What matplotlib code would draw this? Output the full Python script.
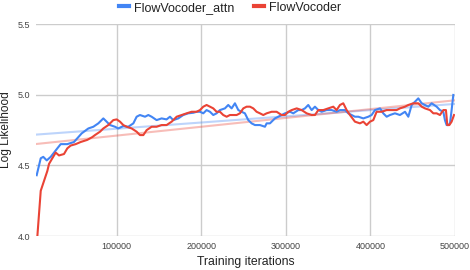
import numpy as np
import matplotlib
matplotlib.use('Agg')
import matplotlib.pyplot as plt

plt.rcParams['font.family'] = ['Liberation Sans', 'DejaVu Sans']

# FlowVocoder_attn (blue)
attn_iters = [5400, 10200, 13200, 17300, 22000, 25900, 29800, 33800, 41600, 49500,
              58600, 66500, 72400, 78300, 84200, 88100, 92100, 98000, 101900, 107800,
              113700, 119700, 123600, 127500, 133500, 137400, 141300, 147200, 153100, 159000,
              163000, 166900, 172800, 178700, 184600, 190600, 194500, 198500, 202400, 206300,
              210300, 214200, 218100, 222100, 228000, 231900, 235900, 239800, 243800, 247700,
              251600, 255600, 259500, 263500, 269400, 275300, 277300, 281200, 287100, 291100,
              295000, 299000, 304900, 308800, 314700, 318700, 322600, 326500, 330500, 334400,
              338400, 342300, 348200, 354100, 360000, 364000, 369900, 373800, 377800, 381700,
              385700, 391600, 397500, 401400, 405400, 411300, 415200, 419200, 423100, 429000,
              434900, 440900, 444800, 448800, 452700, 456600, 460600, 464500, 468500, 472400,
              478300, 482200, 486200, 488100, 490100, 492100, 494100, 496000, 498000]
attn_ll = [4.43, 4.55, 4.56, 4.535, 4.56, 4.59, 4.62, 4.65, 4.65, 4.665,
           4.726, 4.761, 4.773, 4.797, 4.832, 4.809, 4.785, 4.773, 4.761, 4.778,
           4.773, 4.797, 4.844, 4.856, 4.844, 4.856, 4.844, 4.820, 4.832, 4.825,
           4.844, 4.820, 4.832, 4.856, 4.868, 4.872, 4.879, 4.879, 4.868, 4.891,
           4.879, 4.856, 4.868, 4.891, 4.903, 4.927, 4.903, 4.939, 4.891, 4.879,
           4.868, 4.820, 4.797, 4.785, 4.785, 4.773, 4.797, 4.797, 4.832, 4.844,
           4.856, 4.868, 4.879, 4.868, 4.891, 4.891, 4.903, 4.927, 4.891, 4.915,
           4.891, 4.879, 4.891, 4.891, 4.879, 4.891, 4.891, 4.868, 4.856, 4.844,
           4.844, 4.832, 4.844, 4.856, 4.891, 4.903, 4.868, 4.844, 4.856, 4.868,
           4.856, 4.879, 4.844, 4.927, 4.950, 4.974, 4.939, 4.927, 4.915, 4.939,
           4.915, 4.891, 4.879, 4.820, 4.785, 4.785, 4.797, 4.891, 4.998]

# FlowVocoder (red)
base_iters = [6100, 10200, 14100, 18000, 20000, 23900, 27900, 31800, 37700, 41600,
              45600, 51500, 57400, 65200, 71200, 74300, 80300, 84200, 90100, 96000,
              100000, 103900, 107800, 111800, 117700, 123600, 127500, 131500, 135400, 141300,
              147200, 153100, 159000, 165000, 170900, 176800, 182700, 188600, 194500, 198500,
              202400, 206300, 210300, 214200, 218100, 222100, 226000, 230000, 233900, 237900,
              241800, 245700, 249700, 253600, 257600, 261500, 265400, 269400, 273300, 277300,
              283200, 289100, 295000, 299000, 302900, 306900, 312800, 318700, 324600, 330500,
              334400, 338400, 344300, 350200, 356100, 360000, 364000, 367900, 371900, 375800,
              381700, 387600, 391600, 395500, 399500, 403400, 407300, 413300, 419200, 425100,
              431000, 434900, 440900, 444800, 450700, 456600, 460600, 464500, 470400, 474400,
              478300, 482200, 486200, 489300, 490900, 493300, 496000, 498800]
base_ll = [3.99, 4.32, 4.39, 4.46, 4.51, 4.55, 4.59, 4.57, 4.58, 4.62,
           4.64, 4.65, 4.665, 4.68, 4.70, 4.714, 4.738, 4.761, 4.785, 4.820,
           4.825, 4.809, 4.785, 4.773, 4.761, 4.738, 4.714, 4.714, 4.749, 4.773,
           4.773, 4.785, 4.785, 4.809, 4.844, 4.856, 4.868, 4.879, 4.879, 4.891,
           4.915, 4.927, 4.915, 4.903, 4.879, 4.879, 4.856, 4.844, 4.856, 4.856,
           4.856, 4.868, 4.903, 4.915, 4.915, 4.903, 4.879, 4.868, 4.856, 4.868,
           4.879, 4.879, 4.856, 4.856, 4.879, 4.891, 4.903, 4.891, 4.868, 4.856,
           4.856, 4.891, 4.891, 4.903, 4.915, 4.891, 4.927, 4.939, 4.891, 4.856,
           4.809, 4.797, 4.809, 4.785, 4.809, 4.820, 4.879, 4.879, 4.891, 4.891,
           4.891, 4.903, 4.915, 4.927, 4.939, 4.939, 4.915, 4.903, 4.891, 4.868,
           4.868, 4.856, 4.891, 4.891, 4.785, 4.785, 4.809, 4.856]

x_ticks = [100000, 200000, 300000, 400000, 500000]
y_ticks = [4.0, 4.5, 5.0, 5.5]

BLUE = '#4285f4'
RED = '#ea4335'

fig = plt.figure(figsize=(4.7, 2.7), dpi=100)
ax = fig.add_axes([36 / 470, 1 - 236 / 270, (455 - 36) / 470, (236 - 24) / 270])

# linear trendlines
for xs, ys, col in [(attn_iters, attn_ll, BLUE), (base_iters, base_ll, RED)]:
    k, b = np.polyfit(xs, ys, 1)
    xx = np.array([4600, 500000])
    ax.plot(xx, k * xx + b, color=col, alpha=0.35, lw=1.5, zorder=2)

ax.plot(attn_iters, attn_ll, color=BLUE, lw=1.5, label='FlowVocoder_attn', zorder=3)
ax.plot(base_iters, base_ll, color=RED, lw=1.5, label='FlowVocoder', zorder=4)

ax.set_xlim(4600, 500000)
ax.set_ylim(4.0, 5.5)
ax.set_xticks(x_ticks)
ax.set_xticklabels([str(t) for t in x_ticks])
ax.set_yticks(y_ticks)
ax.set_yticklabels(['%.1f' % t for t in y_ticks])
ax.grid(True, color='#cccccc', lw=1)
ax.set_axisbelow(True)
for s in ax.spines.values():
    s.set_visible(False)
ax.tick_params(length=0, labelsize=6.5, labelcolor='#444444', pad=4)
ax.set_xlabel('Training iterations', fontsize=8.8, color='#222222', labelpad=4)
ax.set_ylabel('Log Likelihood', fontsize=8.6, color='#222222', labelpad=4)

fig.legend(*ax.get_legend_handles_labels(), loc='upper center', bbox_to_anchor=(0.49, 1.035),
           ncol=2, frameon=False, fontsize=9, handlelength=0.8, handletextpad=0.4,
           columnspacing=1.6, labelcolor='#222222')
leg = fig.legends[0]
for h in leg.legend_handles:
    h.set_linewidth(3)

fig.savefig('out.png', dpi=100)
